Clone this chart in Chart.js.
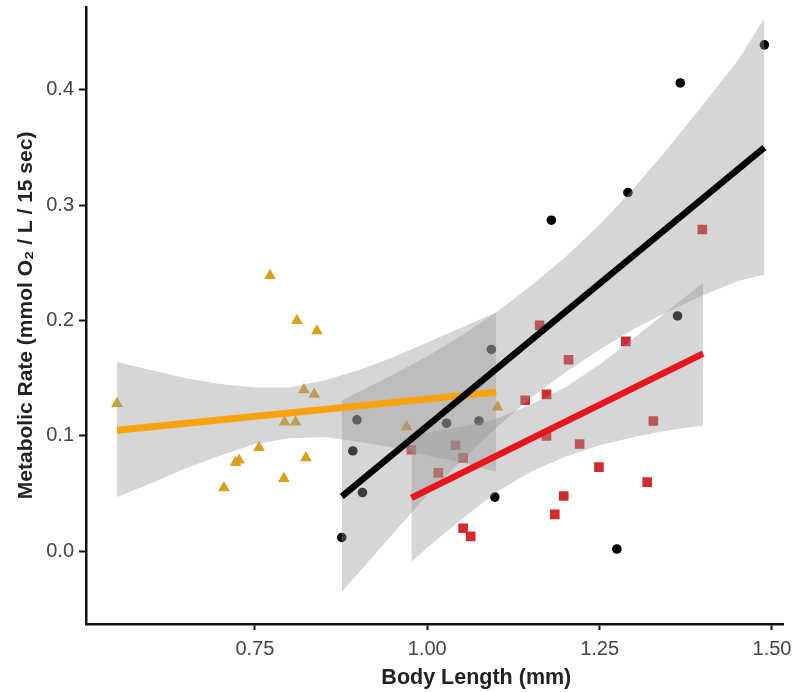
<!DOCTYPE html>
<html>
<head>
<meta charset="utf-8">
<script src="https://cdn.jsdelivr.net/npm/chart.js@4.4.1/dist/chart.umd.min.js"></script>
<style>
  html, body { margin: 0; padding: 0; background: #fff; }
</style>
</head>
<body>
<canvas id="chart" width="801" height="692"></canvas>
<script>
// Tick marks
const xTickValues = [0.75, 1.00, 1.25, 1.50];
const xTickLabels = ['0.75', '1.00', '1.25', '1.50'];
const yTickValues = [0.0, 0.1, 0.2, 0.3, 0.4];
const yTickLabels = ['0.0', '0.1', '0.2', '0.3', '0.4'];

// Observations (body length, metabolic rate)
const orangeX = [0.550, 0.705, 0.722, 0.727, 0.756, 0.772, 0.792, 0.793, 0.809, 0.811, 0.821, 0.824, 0.836, 0.840, 0.970, 1.102];
const orangeY = [0.128, 0.055, 0.077, 0.079, 0.090, 0.239, 0.063, 0.112, 0.112, 0.200, 0.140, 0.081, 0.136, 0.191, 0.108, 0.125];

const blackX = [0.876, 0.892, 0.898, 0.906, 1.028, 1.075, 1.093, 1.098, 1.180, 1.275, 1.291, 1.363, 1.367, 1.489];
const blackY = [0.012, 0.087, 0.114, 0.051, 0.111, 0.113, 0.175, 0.047, 0.287, 0.002, 0.311, 0.204, 0.406, 0.439];

const redX = [0.977, 1.016, 1.041, 1.052, 1.052, 1.063, 1.142, 1.163, 1.173, 1.173, 1.185, 1.198, 1.205, 1.221, 1.249, 1.288, 1.319, 1.328, 1.399];
const redY = [0.088, 0.068, 0.092, 0.081, 0.020, 0.013, 0.131, 0.196, 0.136, 0.100, 0.032, 0.048, 0.166, 0.093, 0.073, 0.182, 0.060, 0.113, 0.279];

// Fitted lines (end points)
const orangeFitX = [0.55, 1.10];
const orangeFitY = [0.105, 0.138];
const blackFitX = [0.876, 1.489];
const blackFitY = [0.0475, 0.350];
const redFitX = [0.977, 1.40];
const redFitY = [0.0464, 0.1713];

// Confidence bands
const orangeBandX = [0.55, 0.60, 0.65, 0.70, 0.75, 0.80, 0.85, 0.90, 0.95, 1.00, 1.05, 1.10];
const orangeBandHi = [0.164, 0.157, 0.150, 0.145, 0.142, 0.142, 0.148, 0.157, 0.168, 0.181, 0.194, 0.207];
const orangeBandLo = [0.047, 0.059, 0.072, 0.083, 0.093, 0.098, 0.099, 0.095, 0.090, 0.083, 0.077, 0.069];

const blackBandX = [0.876, 0.95, 1.00, 1.05, 1.10, 1.15, 1.20, 1.25, 1.30, 1.35, 1.40, 1.45, 1.489];
const blackBandHi = [0.131, 0.153, 0.169, 0.187, 0.207, 0.230, 0.255, 0.283, 0.315, 0.350, 0.387, 0.425, 0.462];
const blackBandLo = [-0.035, 0.015, 0.049, 0.079, 0.107, 0.133, 0.155, 0.175, 0.193, 0.208, 0.222, 0.234, 0.240];

const redBandX = [0.977, 1.00, 1.05, 1.10, 1.15, 1.20, 1.25, 1.30, 1.35, 1.40];
const redBandHi = [0.101, 0.103, 0.108, 0.115, 0.127, 0.142, 0.162, 0.185, 0.209, 0.233];
const redBandLo = [-0.009, 0.003, 0.028, 0.051, 0.069, 0.082, 0.092, 0.099, 0.105, 0.109];

const colors = {
    orangeLine: '#F7A30C',
    orangePt: '#D9A01E',
    redLine: '#E8161C',
    redPt: '#D42A2E',
    black: '#000000',
    band: 'rgba(153, 153, 153, 0.4)',
    axis: '#111111',
    tickText: '#444444'
};

const pts = (xs, ys) => xs.map((x, i) => ({ x, y: ys[i] }));

function fitLine(xs, ys, color, width, order) {
    return {
        data: pts(xs, ys), borderColor: color, borderWidth: width,
        pointRadius: 0, fill: false, showLine: true, order
    };
}

function bandPair(xs, hi, lo, order) {
    return [
        { data: pts(xs, hi), borderWidth: 0, borderColor: 'transparent', backgroundColor: colors.band,
          pointRadius: 0, fill: '+1', showLine: true, order },
        { data: pts(xs, lo), borderWidth: 0, borderColor: 'transparent',
          pointRadius: 0, fill: false, showLine: true, order }
    ];
}

function scatter(xs, ys, color, style, radius, order) {
    return {
        data: pts(xs, ys), showLine: false, pointStyle: style, pointRadius: radius,
        pointBackgroundColor: color, pointBorderColor: color, pointBorderWidth: 0, order
    };
}

// x axis title drawn under the plot, a bit right of centre like the original
const xTitlePlugin = {
    id: 'xTitle',
    afterDraw(chart) {
        const { ctx, chartArea } = chart;
        ctx.save();
        ctx.font = "bold 21.5px 'Liberation Sans', Arial, sans-serif";
        ctx.fillStyle = '#222';
        ctx.textAlign = 'center';
        ctx.textBaseline = 'alphabetic';
        ctx.fillText('Body Length (mm)', chartArea.left + (chartArea.right - chartArea.left) * 0.56, 684);
        ctx.restore();
    }
};

new Chart(document.getElementById('chart'), {
    type: 'line',
    data: {
        datasets: [
            fitLine(blackFitX, blackFitY, colors.black, 6.5, 0),
            fitLine(redFitX, redFitY, colors.redLine, 6.5, 1),
            fitLine(orangeFitX, orangeFitY, colors.orangeLine, 7, 2),
            ...bandPair(orangeBandX, orangeBandHi, orangeBandLo, 3),
            ...bandPair(blackBandX, blackBandHi, blackBandLo, 4),
            ...bandPair(redBandX, redBandHi, redBandLo, 5),
            scatter(orangeX, orangeY, colors.orangePt, 'triangle', 6.8, 6),
            scatter(redX, redY, colors.redPt, 'rect', 6.8, 7),
            scatter(blackX, blackY, colors.black, 'circle', 4.8, 8)
        ]
    },
    options: {
        responsive: false,
        animation: false,
        layout: { padding: { top: 6, right: 18, left: 0, bottom: 0 } },
        plugins: {
            legend: { display: false },
            tooltip: { enabled: false }
        },
        scales: {
            x: {
                type: 'linear',
                min: 0.505,
                max: 1.516,
                afterBuildTicks: (s) => { s.ticks = xTickValues.map(v => ({ value: v })); },
                afterFit: (s) => { s.height = 68; s.paddingLeft = 0; s.paddingRight = 0; },
                border: { display: true, color: colors.axis, width: 2.5 },
                grid: { drawOnChartArea: false, drawTicks: true, tickLength: 6, tickColor: colors.axis, tickWidth: 2 },
                ticks: {
                    padding: 7,
                    color: colors.tickText,
                    font: { family: "'Liberation Sans', Arial, sans-serif", size: 20 },
                    callback: (v) => xTickLabels[xTickValues.indexOf(v)]
                }
            },
            y: {
                type: 'linear',
                min: -0.063,
                max: 0.472,
                afterBuildTicks: (s) => { s.ticks = yTickValues.map(v => ({ value: v })); },
                afterFit: (s) => { s.width = 86; s.paddingTop = 0; s.paddingBottom = 0; },
                border: { display: true, color: colors.axis, width: 2.5 },
                grid: { drawOnChartArea: false, drawTicks: true, tickLength: 7, tickColor: colors.axis, tickWidth: 2 },
                ticks: {
                    padding: 5,
                    color: colors.tickText,
                    font: { family: "'Liberation Sans', Arial, sans-serif", size: 20 },
                    callback: (v) => yTickLabels[yTickValues.indexOf(v)]
                },
                title: {
                    display: true,
                    text: 'Metabolic Rate (mmol O\u2082 / L / 15 sec)',
                    color: '#222',
                    font: { family: "'Liberation Sans', Arial, sans-serif", size: 21, weight: 'bold' },
                    padding: { top: 14, bottom: 0 }
                }
            }
        }
    },
    plugins: [xTitlePlugin]
});
</script>
</body>
</html>
